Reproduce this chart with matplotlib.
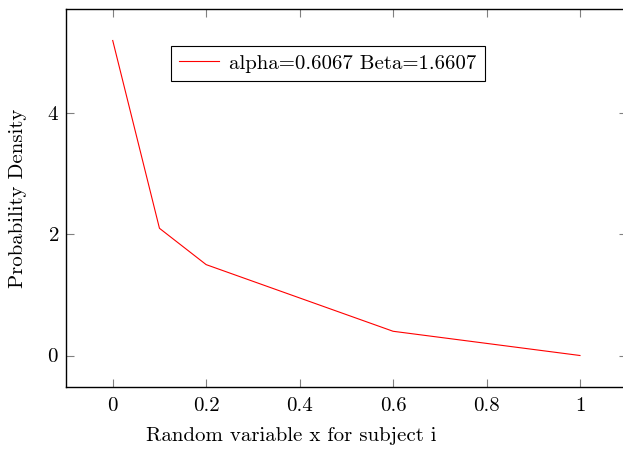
import matplotlib.pyplot as plt

plt.rcParams.update({
    "font.family": "serif",
    "font.serif": ["cmr10"],
    "mathtext.fontset": "cm",
    "axes.formatter.use_mathtext": True,
    "font.size": 15,
})

# data
x_vals = [0, 0.1, 0.2, 0.6, 1.0]
density = [5.2, 2.1, 1.5, 0.4, 0.0]
x_ticks = [0, 0.2, 0.4, 0.6, 0.8, 1]
x_tick_labels = ["0", "0.2", "0.4", "0.6", "0.8", "1"]
y_ticks = [0, 2, 4]
legend_label = "alpha=0.6067 Beta=1.6607"

fig = plt.figure(figsize=(6.23, 4.53), dpi=100)
# axes runs slightly past the right edge, like the reference crop
ax = fig.add_axes([66 / 623, 1 - 387 / 453, 560.7 / 623, 378 / 453])

ax.plot(x_vals, density, color="red", linewidth=0.8, label=legend_label)

ax.set_xlim(-0.1, 1.1)
ax.set_ylim(-0.52, 5.72)
ax.set_xticks(x_ticks)
ax.set_xticklabels(x_tick_labels)
ax.set_yticks(y_ticks)
ax.tick_params(direction="in", top=True, right=True, length=6,
               width=0.8, color="0.5")
ax.tick_params(axis="y", pad=5)
ax.tick_params(axis="x", pad=7)
for s in ax.spines.values():
    s.set_linewidth(1.0)

ax.set_xlabel("Random variable x for subject i")
ax.xaxis.set_label_coords(0.401, -0.105)
ax.set_ylabel("Probability Density")
ax.yaxis.set_label_coords(-0.07, 0.5)

leg = ax.legend(loc="center", bbox_to_anchor=(0.467, 0.856),
                fancybox=False, framealpha=1, edgecolor="black",
                handlelength=1.9, handletextpad=0.5, borderpad=0.4)
leg.get_frame().set_linewidth(0.8)

fig.savefig("out.png", dpi=100)
